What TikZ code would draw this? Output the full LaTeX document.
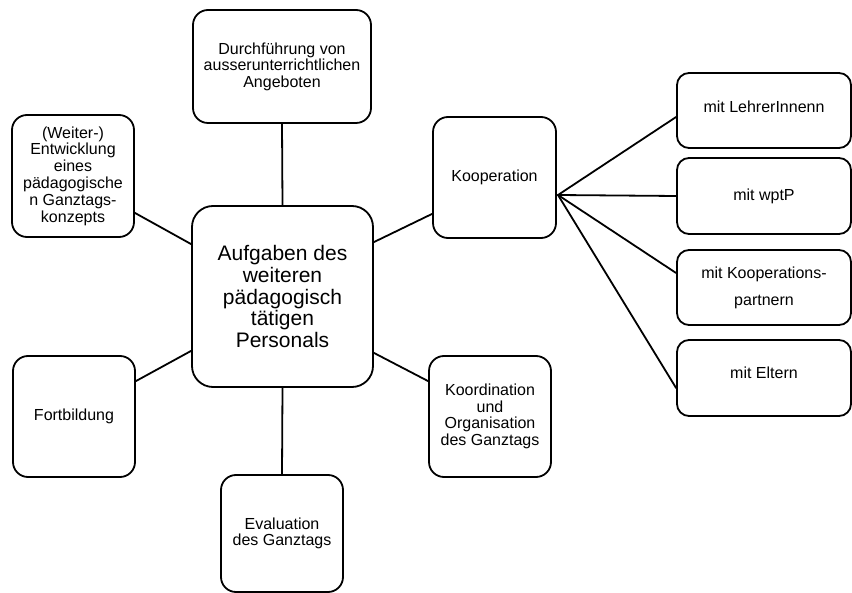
\documentclass[tikz,border=0pt]{standalone}
\usepackage{fontspec}
\setmainfont{Liberation Sans}
\begin{document}
\begin{tikzpicture}[x=1pt,y=-1pt,
  box/.style={draw=black, line width=1.8pt, rounded corners=15pt, fill=white,
    inner sep=0pt, align=center, font=\fontsize{16}{16.5}\selectfont},
  rbox/.style={box, rounded corners=12pt, minimum width=174pt},
  bigbox/.style={box, rounded corners=21pt, font=\fontsize{21}{21.8}\selectfont},
  conn/.style={line width=1.8pt, line cap=round}]
\useasboundingbox (0,0) rectangle (852,593);
\node[box, minimum width=178pt, minimum height=113pt] (top) at (282,66.5)
  {Durchführung von\\ausserunterrichtlichen\\Angeboten};
\node[box, minimum width=122pt, minimum height=122pt, font=\fontsize{16}{16.8}\selectfont] (weiter) at (73,176)
  {(Weiter-)\\Entwicklung\\eines\\pädagogische\\n Ganztags-\\konzepts};
\node[bigbox, minimum width=181pt, minimum height=181pt] (center) at (282.5,296.5)
  {Aufgaben des\\weiteren\\pädagogisch\\tätigen\\Personals};
\node[box, minimum width=123pt, minimum height=121pt] (koop) at (494.5,177.5) {Kooperation};
\node[box, minimum width=122pt, minimum height=121pt] (fort) at (74,416.5) {Fortbildung};
\node[box, minimum width=122pt, minimum height=121pt] (koord) at (490,416.5)
  {Koordination\\und\\Organisation\\des Ganztags};
\node[box, minimum width=122pt, minimum height=117pt] (eval) at (282,533.5)
  {Evaluation\\des Ganztags};
\node[rbox, minimum height=75pt] (r1) at (764,110.5) {mit LehrerInnenn\\[-9.5pt]};
\node[rbox, minimum height=76pt] (r2) at (764,196) {mit wptP};
\node[rbox, minimum height=75pt] (r3) at (764,287.5) {mit Kooperations-\\[10.5pt]partnern};
\node[rbox, minimum height=76pt] (r4) at (764,378) {mit Eltern\\[-6.5pt]};
\coordinate (fan) at (558,195);
% connectors
\draw[conn] (top.south) -- (center.north);
\draw[conn] (center.south) -- (eval.north);
\draw[conn] ([yshift=25pt]weiter.south east) -- ([yshift=-39pt]center.north west);
\draw[conn] ([yshift=25pt]koop.south west) -- ([yshift=-37pt]center.north east);
\draw[conn] ([yshift=-26pt]fort.north east) -- ([yshift=37pt]center.south west);
\draw[conn] ([yshift=-26pt]koord.north west) -- ([yshift=35pt]center.south east);
\draw[conn] (fan) -- ([yshift=-6.5pt]r1.west);
\draw[conn] (fan) -- (r2.west);
\draw[conn] (fan) -- ([yshift=14.5pt]r3.west);
\draw[conn] (fan) -- ([yshift=-10pt]r4.west);
\end{tikzpicture}
\end{document}
